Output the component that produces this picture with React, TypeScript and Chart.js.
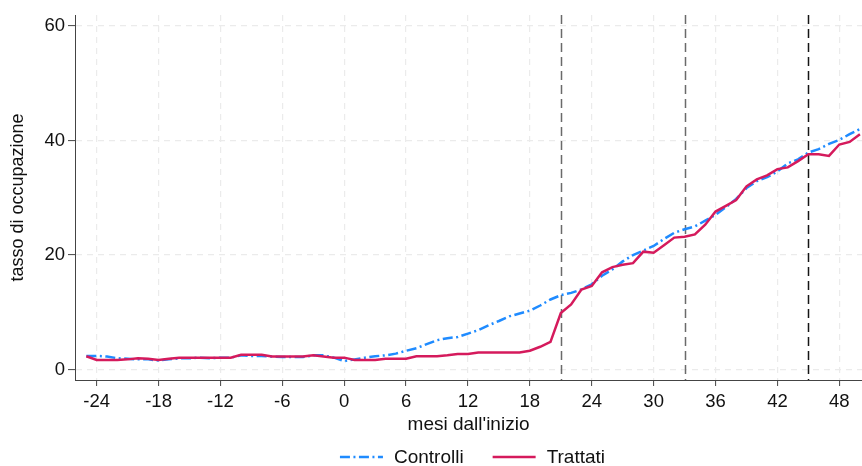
import React, { useEffect, useRef } from "react";
import { Chart, registerables } from "chart.js";

Chart.register(...registerables);

// ---------- data ----------
const months = [
  -25, -24, -23, -22, -21, -20, -19, -18, -17, -16, -15, -14, -13, -12, -11, -10, -9, -8, -7, -6, -5, -4, -3, -2, -1, 0,
  1, 2, 3, 4, 5, 6, 7, 8, 9, 10, 11, 12, 13, 14, 15, 16, 17, 18, 19, 20, 21, 22, 23, 24, 25,
  26, 27, 28, 29, 30, 31, 32, 33, 34, 35, 36, 37, 38, 39, 40, 41, 42, 43, 44, 45, 46, 47, 48, 49, 50,
];

const controlli = [
  2.4, 2.4, 2.3, 2.0, 1.9, 1.8, 1.8, 1.6, 1.8, 2.0, 2.0, 2.1, 2.0, 2.1, 2.1, 2.5, 2.4, 2.4, 2.3, 2.2, 2.2, 2.2, 2.5, 2.5, 2.1, 1.5,
  1.8, 2.1, 2.35, 2.5, 2.8, 3.3, 3.75, 4.45, 5.15, 5.5, 5.7, 6.3, 6.9, 7.75, 8.5, 9.3, 9.8, 10.3, 11.2, 12.25, 13.0, 13.4, 14.0, 14.9, 16.4,
  17.5, 18.9, 20.0, 20.8, 21.6, 22.8, 23.9, 24.5, 25.0, 26.0, 27.0, 28.35, 29.8, 31.7, 32.9, 33.6, 34.6, 36.0, 36.7, 37.9, 38.5, 39.4, 40.1, 41.1, 42.0,
];

const trattati = [
  2.35, 1.7, 1.7, 1.7, 1.8, 2.0, 1.9, 1.7, 1.9, 2.1, 2.1, 2.1, 2.1, 2.1, 2.1, 2.6, 2.6, 2.6, 2.3, 2.3, 2.3, 2.3, 2.5, 2.3, 2.1, 2.1,
  1.7, 1.7, 1.7, 1.9, 1.9, 1.9, 2.35, 2.35, 2.35, 2.5, 2.75, 2.75, 3.0, 3.0, 3.0, 3.0, 3.0, 3.3, 4.0, 4.85, 9.9, 11.4, 14.0, 14.6, 17.0,
  17.9, 18.3, 18.6, 20.6, 20.4, 21.7, 23.05, 23.2, 23.6, 25.3, 27.6, 28.6, 29.6, 32.0, 33.2, 33.9, 35.0, 35.3, 36.4, 37.6, 37.6, 37.3, 39.3, 39.75, 41.1,
];

const seriesLabels = ["Controlli", "Trattati"];
const xTicks = [-24, -18, -12, -6, 0, 6, 12, 18, 24, 30, 36, 42, 48];
const yTicks = [0, 20, 40, 60];
const eventMonths = [21, 33, 45];
const eventColors = ["#6a6a6a", "#6a6a6a", "#151515"];
const xTitle = "mesi dall'inizio";
const yTitle = "tasso di occupazione";

// ---------- layout constants ----------
const W = 862;
const H = 466;
const Y_AXIS_W = 75;
const X_AXIS_H = 56;
const TOP_PAD = 15;
const BOTTOM_PAD = 30;
const FONT = "'Liberation Sans', Arial, Helvetica, sans-serif";
const TEXT = "#111111";

const eventLinesPlugin = {
  id: "eventLines",
  beforeDatasetsDraw(chart: any) {
    const { ctx, chartArea, scales } = chart;
    ctx.save();
    ctx.lineWidth = 1.5;
    ctx.setLineDash([9, 5]);
    eventMonths.forEach((m, i) => {
      const x = Math.round(scales.x.getPixelForValue(m)) + 0.5;
      ctx.strokeStyle = eventColors[i];
      ctx.beginPath();
      ctx.moveTo(x, chartArea.top);
      ctx.lineTo(x, chartArea.bottom);
      ctx.stroke();
    });
    ctx.restore();
  },
};

const bottomLegendPlugin = {
  id: "bottomLegend",
  afterDraw(chart: any) {
    const { ctx, chartArea } = chart;
    const sampleW = 43;
    const gapSample = 11;
    const gapItems = 29;
    const cy = 457;
    ctx.save();
    ctx.font = `19px ${FONT}`;
    ctx.textBaseline = "middle";
    ctx.textAlign = "left";
    const items = chart.data.datasets.map((d: any) => ({
      d,
      w: sampleW + gapSample + ctx.measureText(d.label).width,
    }));
    const total = items.reduce((s: number, it: any) => s + it.w, 0) + gapItems * (items.length - 1);
    let x = (chartArea.left + chartArea.right) / 2 + 4 - total / 2;
    items.forEach((it: any) => {
      ctx.strokeStyle = it.d.borderColor;
      ctx.lineWidth = it.d.borderWidth;
      ctx.setLineDash(it.d.borderDash || []);
      ctx.beginPath();
      ctx.moveTo(x, cy);
      ctx.lineTo(x + sampleW, cy);
      ctx.stroke();
      ctx.setLineDash([]);
      ctx.fillStyle = TEXT;
      ctx.fillText(it.d.label, x + sampleW + gapSample, cy + 1);
      x += it.w + gapItems;
    });
    ctx.restore();
  },
};

export default function App() {
  const ref = useRef<HTMLCanvasElement | null>(null);

  useEffect(() => {
    document.body.style.margin = "0";
    const canvas = ref.current;
    if (!canvas) return;

    const chart = new Chart(canvas, {
      type: "line",
      data: {
        datasets: [
          {
            label: seriesLabels[0],
            data: months.map((m, i) => ({ x: m, y: controlli[i] })),
            borderColor: "#1f8bff",
            borderWidth: 2.5,
            borderDash: [10, 3.5, 2, 3.5],
            pointRadius: 0,
            fill: false,
            tension: 0,
            order: 2,
          },
          {
            label: seriesLabels[1],
            data: months.map((m, i) => ({ x: m, y: trattati[i] })),
            borderColor: "#d51a5c",
            borderWidth: 2.5,
            pointRadius: 0,
            fill: false,
            tension: 0,
            order: 1,
          },
        ],
      },
      options: {
        responsive: false,
        animation: false,
        layout: { padding: { top: TOP_PAD, bottom: BOTTOM_PAD, left: 0, right: 0 } },
        plugins: {
          legend: { display: false },
          tooltip: { enabled: false },
        },
        scales: {
          x: {
            type: "linear",
            min: -26.1,
            max: 50.2,
            afterBuildTicks: (s: any) => {
              s.ticks = xTicks.map((v) => ({ value: v }));
            },
            afterFit: (s: any) => {
              s.height = X_AXIS_H;
            },
            ticks: {
              autoSkip: false,
              maxRotation: 0,
              padding: 5,
              color: TEXT,
              font: { family: FONT, size: 18.5 },
            },
            grid: {
              color: "#ebebeb",
              lineWidth: 1.2,
              tickColor: "#444444",
              tickLength: 6,
              tickWidth: 1,
            },
            border: { color: "#444444", width: 1, dash: [6, 5] },
            title: {
              display: true,
              text: xTitle,
              color: TEXT,
              font: { family: FONT, size: 19 },
              padding: { top: 0, bottom: 0 },
            },
          },
          y: {
            type: "linear",
            min: -1.8,
            max: 61.9,
            afterBuildTicks: (s: any) => {
              s.ticks = yTicks.map((v) => ({ value: v }));
            },
            afterFit: (s: any) => {
              s.width = Y_AXIS_W;
            },
            ticks: {
              padding: 3,
              color: TEXT,
              font: { family: FONT, size: 18.5 },
            },
            grid: {
              color: "#ebebeb",
              lineWidth: 1.2,
              tickColor: "#444444",
              tickLength: 7,
              tickWidth: 1,
            },
            border: { color: "#444444", width: 1, dash: [6, 5] },
            title: {
              display: true,
              text: yTitle,
              color: TEXT,
              font: { family: FONT, size: 18 },
              padding: { top: 7, bottom: 0 },
            },
          },
        },
      },
      plugins: [eventLinesPlugin, bottomLegendPlugin],
    } as any);

    return () => chart.destroy();
  }, []);

  return (
    <div style={{ width: W, height: H, background: "#fff" }}>
      <canvas ref={ref} width={W} height={H} style={{ display: "block" }} />
    </div>
  );
}
